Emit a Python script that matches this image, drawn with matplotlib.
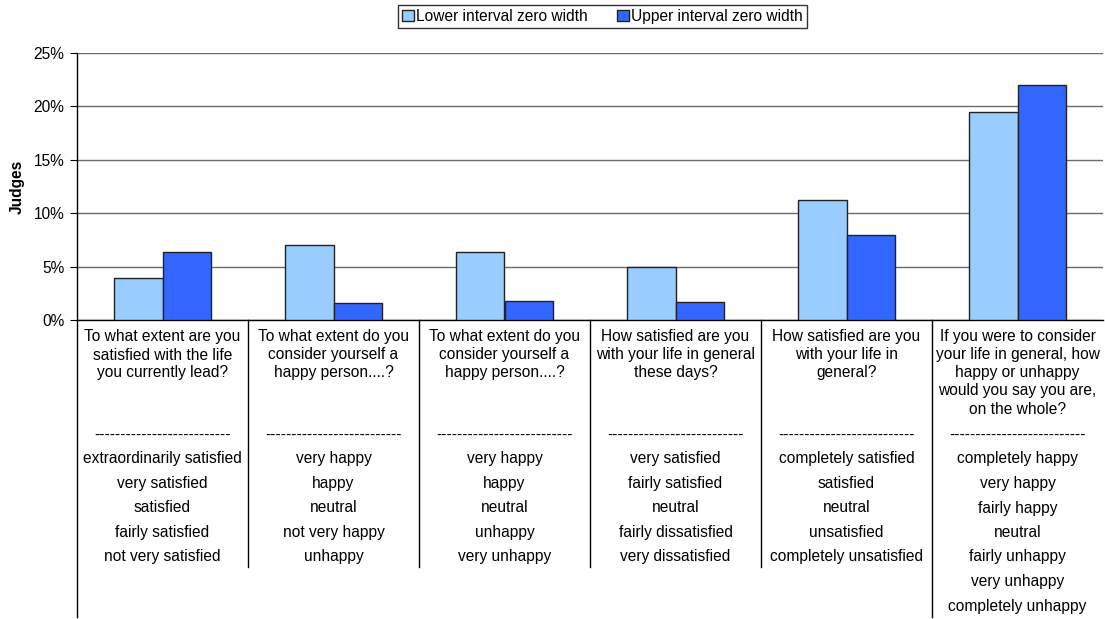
import matplotlib
matplotlib.use("Agg")
import matplotlib.pyplot as plt
from matplotlib.transforms import blended_transform_factory
from matplotlib.patches import Patch
from matplotlib.ticker import PercentFormatter

# ---- data ----
questions = [
    "To what extent are you\nsatisfied with the life\nyou currently lead?",
    "To what extent do you\nconsider yourself a\nhappy person....?",
    "To what extent do you\nconsider yourself a\nhappy person....?",
    "How satisfied are you\nwith your life in general\nthese days?",
    "How satisfied are you\nwith your life in\ngeneral?",
    "If you were to consider\nyour life in general, how\nhappy or unhappy\nwould you say you are,\non the whole?",
]
answers = [
    ["extraordinarily satisfied", "very satisfied", "satisfied", "fairly satisfied", "not very satisfied"],
    ["very happy", "happy", "neutral", "not very happy", "unhappy"],
    ["very happy", "happy", "neutral", "unhappy", "very unhappy"],
    ["very satisfied", "fairly satisfied", "neutral", "fairly dissatisfied", "very dissatisfied"],
    ["completely satisfied", "satisfied", "neutral", "unsatisfied", "completely unsatisfied"],
    ["completely happy", "very happy", "fairly happy", "neutral", "fairly unhappy", "very unhappy", "completely unhappy"],
]
lower_zero = [3.9, 7.0, 6.4, 5.0, 11.2, 19.5]
upper_zero = [6.4, 1.6, 1.8, 1.7, 8.0, 22.0]
series_names = ["Lower interval zero width", "Upper interval zero width"]
yticks = [0, 5, 10, 15, 20, 25]
ylabel = "Judges"

# ---- styling ----
plt.rcParams['font.family'] = ['Liberation Sans', 'DejaVu Sans']
FS = 11.2
light = "#99CCFF"
dark = "#3366FF"
W, H = 1105, 619
fig = plt.figure(figsize=(W / 100, H / 100), dpi=100)
left, right, top, bottom = 77, 1103, 53, 320
ax = fig.add_axes([left / W, 1 - bottom / H, (right - left) / W, (bottom - top) / H])

n = len(questions)
xs = list(range(n))
bw = 0.2865
ax.bar([x - bw / 2 for x in xs], lower_zero, width=bw, color=light, edgecolor="#222222", linewidth=1.0, zorder=3)
ax.bar([x + bw / 2 for x in xs], upper_zero, width=bw, color=dark, edgecolor="#222222", linewidth=1.0, zorder=3)

ax.set_xlim(-0.5, n - 0.5)
ax.set_ylim(0, 25)
ax.set_yticks(yticks)
ax.yaxis.set_major_formatter(PercentFormatter(decimals=0))
ax.tick_params(axis='y', length=5, width=0.8, labelsize=FS, pad=4, color="black")
ax.tick_params(axis='x', length=0, labelbottom=False)
ax.yaxis.grid(True, color="#6a6a6a", linewidth=1.0, zorder=0)
for s in ["top", "right"]:
    ax.spines[s].set_visible(False)
ax.spines["left"].set_linewidth(1.0)
ax.spines["bottom"].set_linewidth(1.0)

fig.text(17 / W, 1 - 187 / H, ylabel, rotation=90, ha="center", va="center",
         fontsize=FS, fontweight="bold")

# ---- category label table below axis ----
tr = blended_transform_factory(ax.transData, fig.transFigure)

def fy(p):
    return 1 - p / H

# divider lines
for i in range(n):
    xd = i - 0.5
    end = 617 if (i == 0 or i == n - 1) else 567
    ax.plot([xd, xd], [fy(bottom), fy(end)], transform=tr, color="black",
            linewidth=1.0, clip_on=False)

q_rows = [337, 355, 373, 391, 409]
a_rows = [459, 483.5, 508, 532.5, 557, 581.5, 606]
for i, q in enumerate(questions):
    for j, line in enumerate(q.split("\n")):
        ax.text(i, fy(q_rows[j]), line, transform=tr, ha="center", va="center", fontsize=FS)
    ax.text(i, fy(435), "-" * 26, transform=tr, ha="center", va="center", fontsize=FS)
    for j, a in enumerate(answers[i]):
        ax.text(i, fy(a_rows[j]), a, transform=tr, ha="center", va="center", fontsize=FS)

# ---- legend ----
handles = [Patch(facecolor=light, edgecolor="#222222", linewidth=1.0),
           Patch(facecolor=dark, edgecolor="#222222", linewidth=1.0)]
leg = fig.legend(handles, series_names, loc="center", bbox_to_anchor=(602.5 / W, 1 - 16.5 / H),
                 ncol=2, frameon=True, fancybox=False, fontsize=FS, handlelength=0.75,
                 handleheight=0.75, handletextpad=0.15, columnspacing=1.9,
                 borderpad=0.25, borderaxespad=0)
leg.get_frame().set_edgecolor("black")
leg.get_frame().set_linewidth(1.0)

fig.savefig("out.png", dpi=100)
